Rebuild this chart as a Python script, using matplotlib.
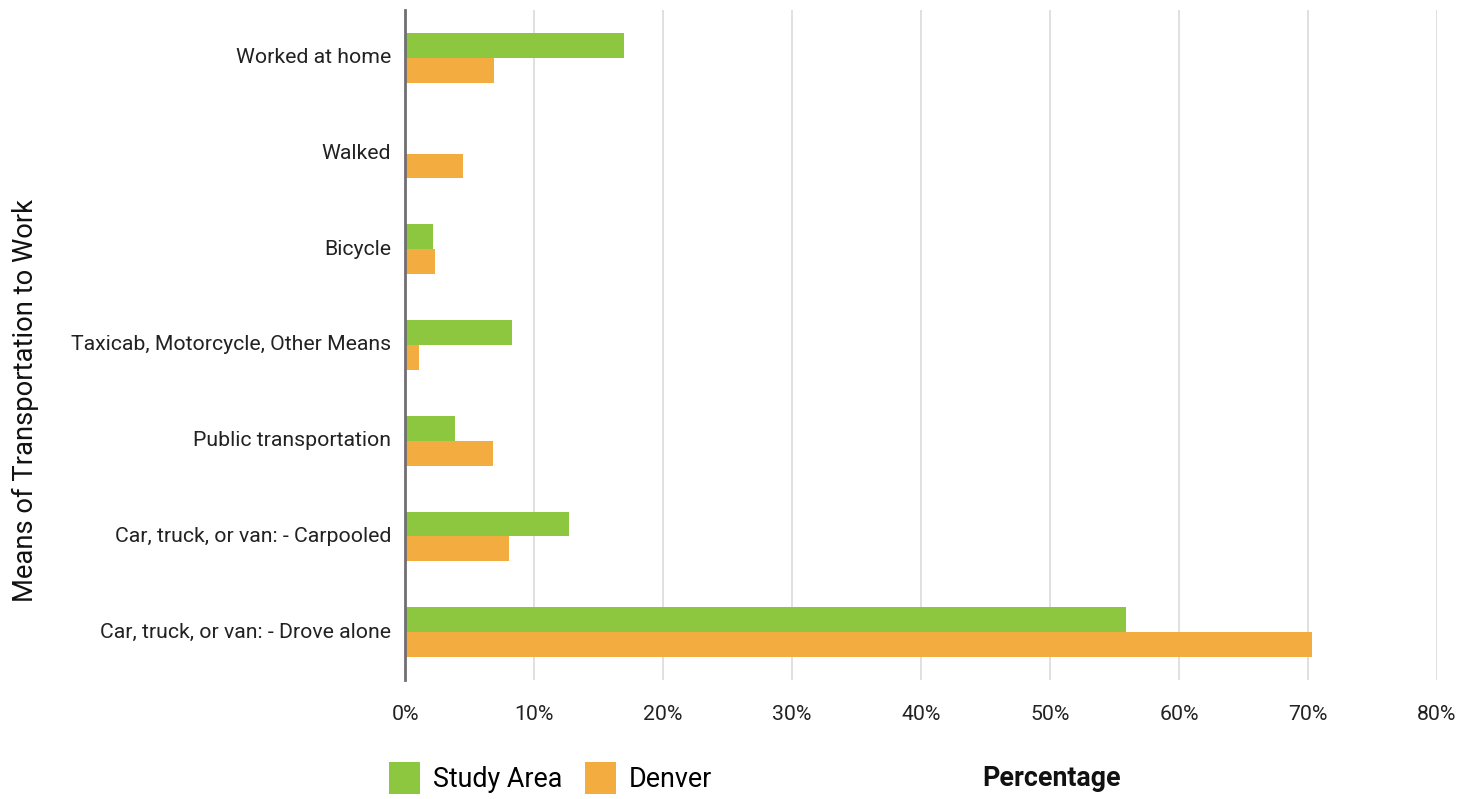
import matplotlib
matplotlib.use("Agg")
import matplotlib.pyplot as plt
import numpy as np
from matplotlib.patches import Patch
from matplotlib.ticker import FuncFormatter

plt.rcParams['font.family'] = ['Roboto', 'DejaVu Sans']

categories = [
    "Car, truck, or van: - Drove alone",
    "Car, truck, or van: - Carpooled",
    "Public transportation",
    "Taxicab, Motorcycle, Other Means",
    "Bicycle",
    "Walked",
    "Worked at home",
]
study_area = [55.9, 12.7, 3.9, 8.3, 2.2, 0.0, 17.0]
denver = [70.3, 8.1, 6.8, 1.1, 2.3, 4.5, 6.9]
x_ticks = [0, 10, 20, 30, 40, 50, 60, 70, 80]

green = "#8DC63F"
orange = "#F2AC3F"

fig = plt.figure(figsize=(14.82, 7.99), dpi=100)
ax = fig.add_axes([405 / 1482, 1 - 680 / 799, (1437 - 405) / 1482, 670 / 799])

y = np.arange(len(categories))
h = 0.26
ax.barh(y + h / 2, study_area, height=h, color=green, zorder=3)
ax.barh(y - h / 2, denver, height=h, color=orange, zorder=3)

ax.set_xlim(0, 80)
ax.set_ylim(-0.5, len(categories) - 0.5)
ax.set_xticks(x_ticks)
ax.xaxis.set_major_formatter(FuncFormatter(lambda v, p: f"{v:.0f}%"))
ax.set_yticks(y)
ax.set_yticklabels(categories)
ax.tick_params(axis='both', length=0, labelsize=15.3, colors="#222222")
ax.tick_params(axis='x', pad=18)
ax.tick_params(axis='y', pad=10)
for lbl in ax.get_yticklabels():
    lbl.set_y(lbl.get_position()[1])
    lbl.set_va("center")

ax.grid(axis='x', color="#dddddd", linewidth=1.3, zorder=0)
for s in ["top", "right", "bottom"]:
    ax.spines[s].set_visible(False)
ax.spines["left"].set_color("#6f6f73")
ax.spines["left"].set_linewidth(2)
ax.spines["left"].set_zorder(4)

fig.text(25 / 1482, 1 - 400 / 799, "Means of Transportation to Work",
         rotation=90, ha="center", va="center", fontsize=19.7, color="#111111")
fig.text(1052 / 1482, 1 - 778 / 799, "Percentage", ha="center", va="center",
         fontsize=19.3, fontweight="bold", color="#111111")

handles = [Patch(facecolor=green, label="Study Area"),
           Patch(facecolor=orange, label="Denver")]
fig.legend(handles=handles, loc="center left", bbox_to_anchor=(389 / 1482, 1 - 778 / 799),
           ncol=2, frameon=False, fontsize=19.4, handlelength=1.14, handleheight=1.42,
           handletextpad=0.48, columnspacing=0.85, borderpad=0, borderaxespad=0)

fig.savefig("out.png", dpi=100)
